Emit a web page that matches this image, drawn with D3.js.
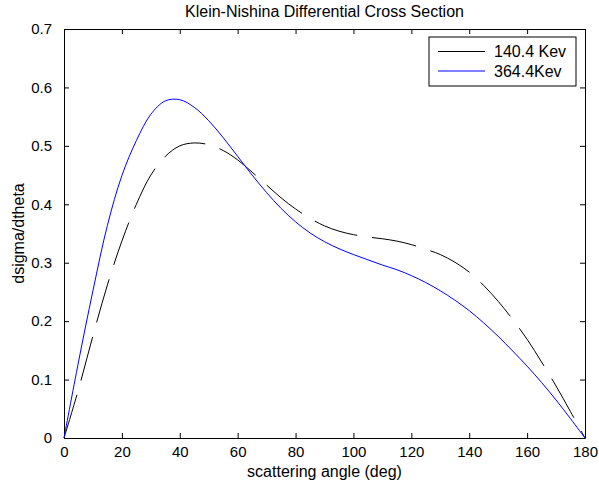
<!DOCTYPE html>
<meta charset="utf-8">
<head>
<style>
body { margin: 0; background: #fff; }
svg { display: block; font-family: "Liberation Sans", Arial, sans-serif; }
.axis path, .axis line { stroke: #000; }
.axis text { font-size: 15px; fill: #000; }
</style>
</head>
<body>
<svg></svg>
<script src="https://d3js.org/d3.v7.min.js"></script>
<script>

// scattering angle (deg)
var angles = [0, 5, 10, 15, 20, 25, 30, 35, 40, 45, 50, 55, 60, 65, 70, 75, 80, 85, 90,
  95, 100, 105, 110, 115, 120, 125, 130, 135, 140, 145, 150, 155, 160, 165, 170, 175, 180];

// 140.4 Kev (black dashed)
var kev140 = [0, 0.083, 0.175, 0.262, 0.337, 0.400, 0.450, 0.482, 0.500, 0.505, 0.502, 0.492,
  0.476, 0.455, 0.433, 0.411, 0.392, 0.376, 0.363, 0.354, 0.348, 0.344, 0.341, 0.337, 0.331,
  0.323, 0.314, 0.301, 0.284, 0.261, 0.234, 0.203, 0.169, 0.130, 0.089, 0.045, 0];

// 364.4Kev (blue)
var kev364 = [0, 0.130, 0.252, 0.364, 0.449, 0.509, 0.554, 0.577, 0.579, 0.566, 0.543, 0.514,
  0.482, 0.450, 0.420, 0.393, 0.370, 0.351, 0.336, 0.324, 0.314, 0.305, 0.296, 0.288, 0.278,
  0.266, 0.252, 0.236, 0.218, 0.197, 0.174, 0.149, 0.123, 0.095, 0.065, 0.033, 0];

var xTicks = [0, 20, 40, 60, 80, 100, 120, 140, 160, 180];
var yTicks = [0, 0.1, 0.2, 0.3, 0.4, 0.5, 0.6, 0.7];
var legendLabels = ["140.4 Kev", "364.4Kev"];

var W = 599, H = 489;
var margin = {top: 29, right: 14, bottom: 51, left: 64};
var width = W - margin.left - margin.right;
var height = H - margin.top - margin.bottom;

var svg = d3.select('svg').attr('width', W).attr('height', H);

var x = d3.scaleLinear().domain([0, 180]).range([0, width]);
var y = d3.scaleLinear().domain([0, 0.7]).range([height, 0]);

var g = svg.append('g')
  .attr('transform', 'translate(' + margin.left + ',' + margin.top + ')');

// box with inward ticks on all four sides
g.append('g').attr('class', 'axis')
  .attr('transform', 'translate(0,' + height + ')')
  .call(d3.axisBottom(x).tickValues(xTicks).tickSizeInner(-5).tickSizeOuter(0).tickPadding(8))
  .call(a => a.selectAll('text').attr('dy', '0.71em'));
g.append('g').attr('class', 'axis')
  .call(d3.axisTop(x).tickValues(xTicks).tickSizeInner(-5).tickSizeOuter(0).tickFormat(''));
g.append('g').attr('class', 'axis')
  .call(d3.axisLeft(y).tickValues(yTicks).tickSizeInner(-5).tickSizeOuter(0).tickPadding(12)
    .tickFormat(d3.format('~g')));
g.append('g').attr('class', 'axis')
  .attr('transform', 'translate(' + width + ',0)')
  .call(d3.axisRight(y).tickValues(yTicks).tickSizeInner(-5).tickSizeOuter(0).tickFormat(''));

var line = d3.line()
  .x(function (d) { return x(d[0]); })
  .y(function (d) { return y(d[1]); })
  .curve(d3.curveCatmullRom.alpha(0.5));

g.append('path')
  .datum(d3.zip(angles, kev140))
  .attr('d', line)
  .attr('fill', 'none')
  .attr('stroke', '#000')
  .attr('stroke-width', 1)
  .attr('stroke-dasharray', '45,15');

g.append('path')
  .datum(d3.zip(angles, kev364))
  .attr('d', line)
  .attr('fill', 'none')
  .attr('stroke', '#0000ff')
  .attr('stroke-width', 1);

// title and labels
svg.append('text')
  .attr('x', margin.left + width / 2).attr('y', 17)
  .attr('text-anchor', 'middle').style('font-size', '16px')
  .text('Klein-Nishina Differential Cross Section');

svg.append('text')
  .attr('x', margin.left + width / 2).attr('y', 477)
  .attr('text-anchor', 'middle').style('font-size', '16px')
  .text('scattering angle (deg)');

svg.append('text')
  .attr('transform', 'translate(24,' + (margin.top + height / 2) + ') rotate(-90)')
  .attr('text-anchor', 'middle').style('font-size', '16px')
  .text('dsigma/dtheta');

// legend
var leg = svg.append('g').attr('transform', 'translate(429,37)');
leg.append('rect')
  .attr('width', 147).attr('height', 49)
  .attr('fill', '#fff').attr('stroke', '#000');
var colors = ['#000', '#0000ff'];
legendLabels.forEach(function (lab, i) {
  var ly = 14.5 + i * 19.5;
  leg.append('line')
    .attr('x1', 9).attr('x2', 56).attr('y1', ly).attr('y2', ly)
    .attr('stroke', colors[i]);
  leg.append('text')
    .attr('x', 65).attr('y', ly).attr('dy', '0.35em')
    .style('font-size', '16px')
    .text(lab);
});

</script>
</body>
</html>
